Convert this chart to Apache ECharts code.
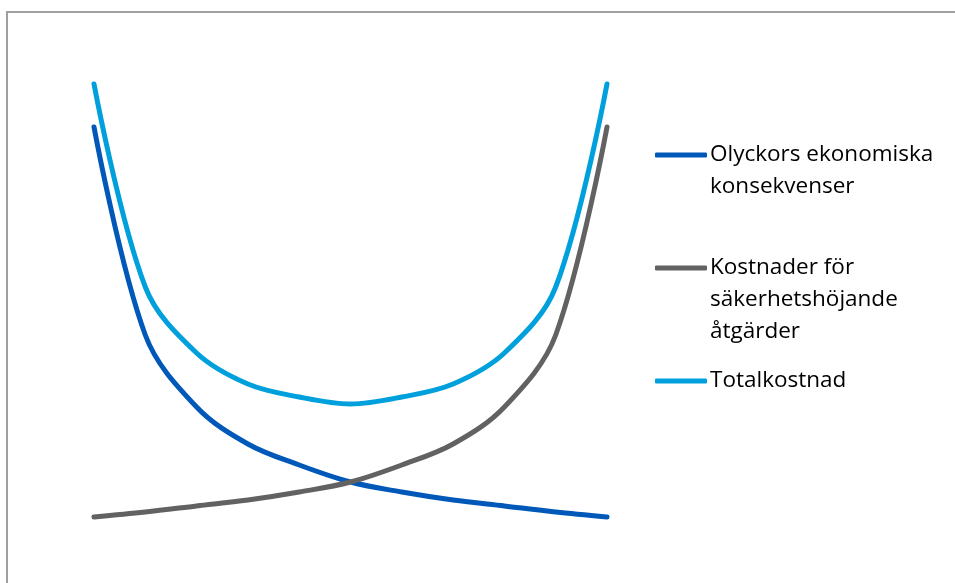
<!DOCTYPE html>
<html>
<head>
<meta charset="utf-8">
<script src="https://cdn.jsdelivr.net/npm/echarts@6/dist/echarts.min.js"></script>
<style>
  html, body { margin: 0; padding: 0; background: #fff; }
  #main { width: 955px; height: 583px; }
</style>
</head>
<body>
<div id="main"></div>
<script>
// data
var steps = ['1', '2', '3', '4', '5', '6', '7', '8', '9', '10', '11'];
var olyckor = [433, 225, 153, 116, 95, 78, 68, 60, 54, 48, 43];
var atgarder = [43, 48, 54, 60, 68, 78, 95, 116, 153, 225, 433];
var total = [476, 273, 207, 176, 163, 156, 163, 176, 207, 273, 476];

var names = ['Olyckors ekonomiska konsekvenser', 'Kostnader för säkerhetshöjande åtgärder', 'Totalkostnad'];
var labels = {};
labels[names[0]] = '\nOlyckors ekonomiska\nkonsekvenser';
labels[names[1]] = '\n\nKostnader för\nsäkerhetshöjande\nåtgärder';
labels[names[2]] = 'Totalkostnad';

var chart = echarts.init(document.getElementById('main'));

function makeLegend(name, top) {
  return {
    data: [name],
    left: 655,
    top: top,
    padding: 0,
    icon: 'roundRect',
    itemWidth: 52,
    itemHeight: 5,
    itemGap: 0,
    formatter: function (n) { return labels[n]; },
    textStyle: {
      fontFamily: 'Open Sans',
      fontSize: 22.5,
      lineHeight: 32,
      color: '#000',
      padding: [0, 0, 0, -2]
    }
  };
}

var option = {
  animation: false,
  backgroundColor: '#fff',
  grid: { left: 94, right: 348, top: 60, bottom: 23 },
  legend: [
    makeLegend(names[0], 155 - 48),
    makeLegend(names[1], 268 - 80),
    makeLegend(names[2], 381 - 16)
  ],
  xAxis: {
    type: 'category',
    data: steps,
    boundaryGap: false,
    show: false
  },
  yAxis: {
    type: 'value',
    min: 0,
    max: 500,
    show: false
  },
  graphic: [
    {
      type: 'rect',
      shape: { x: 7, y: 12, width: 970, height: 620 },
      style: { fill: 'none', stroke: '#a0a0a0', lineWidth: 2 },
      silent: true
    }
  ],
  series: [
    {
      name: names[0],
      type: 'line',
      data: olyckor,
      smooth: 0.35,
      showSymbol: false,
      color: '#0058b9',
      lineStyle: { width: 5, cap: 'round' }
    },
    {
      name: names[1],
      type: 'line',
      data: atgarder,
      smooth: 0.35,
      showSymbol: false,
      color: '#626262',
      lineStyle: { width: 5, cap: 'round' }
    },
    {
      name: names[2],
      type: 'line',
      data: total,
      smooth: 0.35,
      showSymbol: false,
      color: '#00a0dd',
      lineStyle: { width: 5, cap: 'round' }
    }
  ]
};

chart.setOption(option);
</script>
</body>
</html>
